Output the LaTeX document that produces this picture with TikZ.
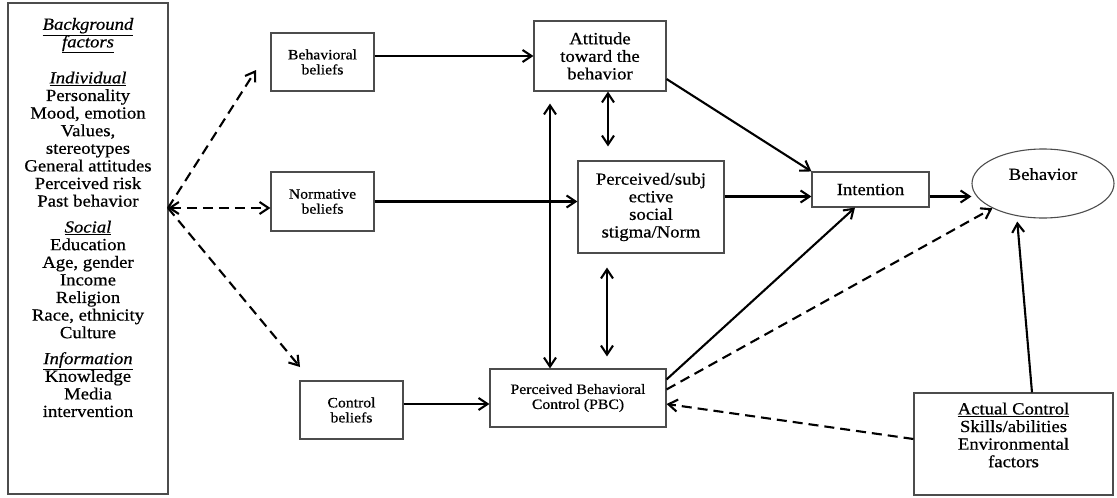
\documentclass[tikz,border=0pt]{standalone}
\usepackage{fontspec}
\setmainfont{Liberation Serif}[FakeStretch=1.1,FakeBold=0.6]
\usetikzlibrary{arrows.meta,shapes.geometric}
\tikzset{
  box/.style={draw=black!70, line width=1.1pt, align=center, inner sep=2pt},
  big/.style={font=\fontsize{17}{17.6}\selectfont},
  small/.style={font=\fontsize{14.3}{15}\selectfont},
  tip/.tip={Straight Barb[length=9pt,width=12pt]},
  arr/.style={line width=2.1pt, -tip},
  darr/.style={arr, dash pattern=on 10pt off 6pt},
}
\begin{document}
\begin{tikzpicture}[x=1pt,y=-1pt]
\useasboundingbox (0,0) rectangle (1117,498);
\node[box, minimum width=160pt, minimum height=491pt] (bg) at (88,248.5) {};
\node[big, align=center, anchor=north] (bgtext) at ([yshift=-12pt]bg.north)
  {\underline{\textit{Background}}\\ \underline{\textit{factors}}\\[18.4pt]
   \underline{\textit{Individual}}\\ Personality\\ Mood, emotion\\ Values,\\ stereotypes\\
   General attitudes\\ Perceived risk\\ Past behavior\\[8.4pt]
   \underline{\textit{Social}}\\ Education\\ Age, gender\\ Income\\ Religion\\
   Race, ethnicity\\ Culture\\[8.4pt]
   \underline{\textit{Information}}\\ Knowledge\\ Media\\ intervention};
\node[box, small, minimum width=103pt, minimum height=58pt] (bb) at (322.5,62) {Behavioral\\ beliefs};
\node[box, small, minimum width=103pt, minimum height=59pt] (nb) at (322.5,201.5) {Normative\\ beliefs};
\node[box, small, minimum width=103pt, minimum height=58pt] (cb) at (351.5,410) {Control\\ beliefs};
\node[box, big, minimum width=132pt, minimum height=70pt] (att) at (600,56) {Attitude\\ toward the\\ behavior};
\node[box, big, minimum width=146pt, minimum height=92pt] (ps) at (651,207) {Perceived/subj\\ ective\\ social\\ stigma/Norm};
\node[box, small, minimum width=176pt, minimum height=58pt] (pbc) at (578,398) {Perceived Behavioral\\ Control (PBC)};
\node[box, big, minimum width=117pt, minimum height=35pt] (int) at (870.5,189.5) {Intention};
\node[box, big, ellipse, minimum width=142pt, minimum height=69pt, text depth=19pt] (beh) at (1043,183.5) {Behavior};
\node[box, minimum width=199pt, minimum height=102pt] (act) at (1013.5,444) {};
\node[big, align=center] (acttext) at ([yshift=9pt]act.center)
  {\underline{Actual Control}\\ Skills/abilities\\ Environmental\\ factors};
\coordinate (J) at (168,208);
\coordinate (bbin) at (256,70);
\coordinate (cbin) at (300,367);
\coordinate (intin) at ([yshift=-7pt]int.west);
\coordinate (intout) at ([yshift=-7pt]int.east);
\draw[darr] (J) -- (bbin);
\draw[darr, tip-tip] (J) -- (nb.west |- J);
\draw[darr] (J) -- (cbin);
\draw[arr] (bb.east |- att.west) -- (att.west);
\draw[arr] (nb.east) -- (nb.east -| ps.west);
\draw[arr] (cb.east |- 0,404) -- (pbc.west |- 0,404);
\draw[arr, tip-tip, shorten >=14pt] ([xshift=8pt]att.south) -- ([xshift=8pt]att.south |- ps.north);
\draw[arr, tip-tip, shorten <=12pt] ([xshift=-50pt]att.south) -- ([xshift=-50pt]att.south |- pbc.north);
\draw[arr, tip-tip, shorten <=14pt, shorten >=12pt] ([xshift=-44pt]ps.south) -- ([xshift=-44pt]ps.south |- pbc.north);
\draw[arr] ([yshift=-23pt]att.east) -- (int.north west);
\draw[arr] (ps.east |- intin) -- (intin);
\draw[arr] ([yshift=-11pt]pbc.north east) -- ([xshift=-15.5pt]int.south);
\draw[arr] (intout) -- (intout -| beh.west);
\draw[darr] ([yshift=-21pt]pbc.north east) -- (beh.south west);
\draw[arr, shorten >=3pt] ([xshift=18.5pt]act.north) -- ([xshift=-26pt]beh.south);
\draw[darr] ([yshift=5pt]act.west) -- ([yshift=-6pt]pbc.east);
\end{tikzpicture}
\end{document}
